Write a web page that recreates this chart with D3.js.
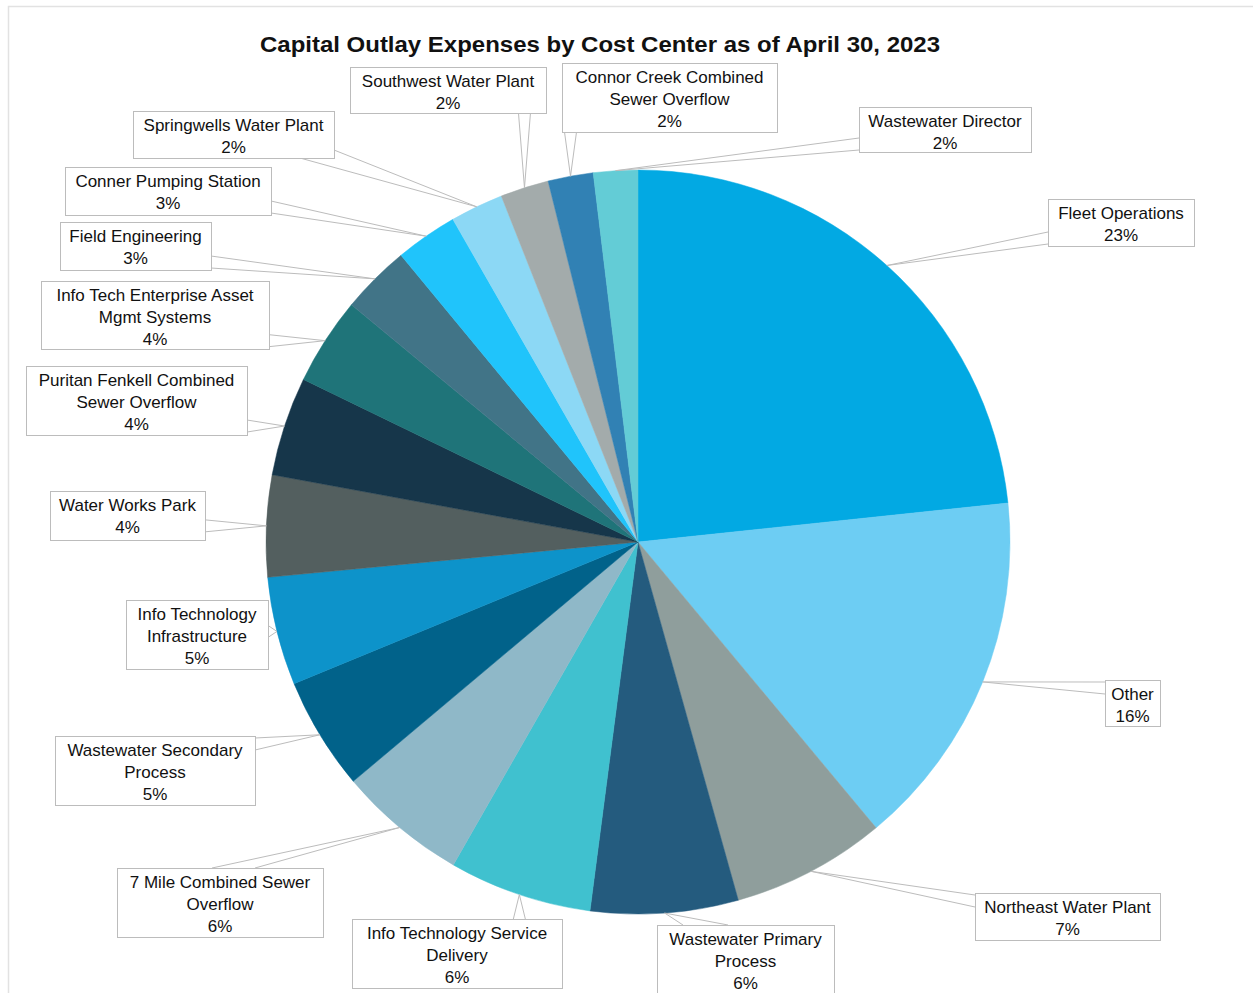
<!DOCTYPE html>
<html>
<head>
<meta charset="utf-8">
<script src="https://cdn.jsdelivr.net/npm/d3@7"></script>
<style>
  html, body { margin: 0; padding: 0; background: #fff; }
  svg { display: block; }
  text { font-family: "Liberation Sans", Arial, sans-serif; fill: #111; }
</style>
</head>
<body>
<svg id="chart" width="1253" height="993"></svg>
<script>
// ---- Data ----
const title = "Capital Outlay Expenses by Cost Center as of April 30, 2023";
const categories = [
  "Fleet Operations", "Other", "Northeast Water Plant", "Wastewater Primary Process",
  "Info Technology Service Delivery", "7 Mile Combined Sewer Overflow",
  "Wastewater Secondary Process", "Info Technology Infrastructure", "Water Works Park",
  "Puritan Fenkell Combined Sewer Overflow", "Info Tech Enterprise Asset Mgmt Systems",
  "Field Engineering", "Conner Pumping Station", "Springwells Water Plant",
  "Southwest Water Plant", "Connor Creek Combined Sewer Overflow", "Wastewater Director"
];
const shares = [23.3, 15.6, 6.7, 6.4, 6.2, 5.6, 4.9, 4.7, 4.4, 4.3, 3.8, 3.0, 2.7, 2.3, 2.1, 1.96, 1.92];
const colors = [
  "#02a9e3", "#6dcdf3", "#8f9e9c", "#245b7e", "#40c1cf", "#8fb8c8", "#01628a", "#0d93ca",
  "#535f5f", "#16364a", "#1f7479", "#417487", "#20c4fb", "#8cd8f5", "#a3abab", "#3181b4", "#63ccd6"
];

// ---- Layout (label boxes: x, y, w, h) ----
const labelBoxes = [
  [1048, 199, 146, 47], [1105, 680, 55, 46], [975, 893, 185, 47], [657, 925, 177, 74],
  [352, 919, 210, 69], [117, 868, 206, 69], [55, 736, 200, 69], [126, 600, 142, 69],
  [50, 491, 155, 49], [26, 366, 221, 69], [41, 281, 228, 68], [60, 222, 151, 48],
  [65, 167, 206, 48], [133, 111, 201, 47], [350, 67, 196, 46], [562, 63, 215, 69],
  [859, 107, 172, 45]
];
// optional leader base points on the box edge [x1, y1, x2, y2]
const leaderBases = {
  3: [683, 925, 728, 925],
  5: [212, 868, 255, 868],
  13: [300, 158, 334, 150]
};

const svg = d3.select("#chart");
const W = 1253, H = 993;
const cx = 638, cy = 542, R = 372;

// outer border
svg.append("path")
  .attr("d", `M8.5,${H} V6.5 H${W}`)
  .attr("fill", "none").attr("stroke", "#e2e2e2").attr("stroke-width", 1.5);

// title
svg.append("text")
  .attr("x", 600).attr("y", 52)
  .attr("text-anchor", "middle")
  .attr("font-size", 21.5).attr("font-weight", "bold")
  .attr("textLength", 680).attr("lengthAdjust", "spacingAndGlyphs")
  .text(title);

const data = categories.map((c, i) => ({ idx: i, name: c, value: shares[i], color: colors[i], box: labelBoxes[i] }));
const total = d3.sum(shares);

const pie = d3.pie().value(d => d.value).sort(null);
const arcs = pie(data);
const arc = d3.arc().innerRadius(0).outerRadius(R);

const g = svg.append("g").attr("transform", `translate(${cx},${cy})`);
g.selectAll("path.slice").data(arcs).join("path")
  .attr("class", "slice")
  .attr("d", arc)
  .attr("fill", d => d.data.color)
  .attr("stroke", d => d.data.color)
  .attr("stroke-width", 0.5);

// leader lines + labels
const lineColor = "#bcbcbc";
const lg = svg.append("g");
arcs.forEach(a => {
  const mid = (a.startAngle + a.endAngle) / 2;
  const px = cx + R * Math.sin(mid), py = cy - R * Math.cos(mid);
  const [bx, by, bw, bh] = a.data.box;
  let p1, p2;
  if (leaderBases[a.data.idx]) {
    const b = leaderBases[a.data.idx];
    p1 = [b[0], b[1]]; p2 = [b[2], b[3]];
  } else {
    const nx = Math.max(bx, Math.min(px, bx + bw));
    const ny = Math.max(by, Math.min(py, by + bh));
    const half = 6;
    const dl = Math.abs(px - bx), dr = Math.abs(px - (bx + bw)), dt = Math.abs(py - by), db = Math.abs(py - (by + bh));
    const outsideX = px < bx || px > bx + bw;
    const outsideY = py < by || py > by + bh;
    if (outsideX && (!outsideY || Math.min(dl, dr) > Math.min(dt, db))) {
      const ex = px < bx ? bx : bx + bw;
      const yy = Math.max(by + half + 2, Math.min(ny, by + bh - half - 2));
      p1 = [ex, yy - half]; p2 = [ex, yy + half];
    } else {
      const ey = py < by ? by : by + bh;
      const xx = Math.max(bx + half + 2, Math.min(nx, bx + bw - half - 2));
      p1 = [xx - half, ey]; p2 = [xx + half, ey];
    }
  }
  lg.append("path")
    .attr("d", `M${p1[0]},${p1[1]} L${px},${py} L${p2[0]},${p2[1]}`)
    .attr("fill", "none").attr("stroke", lineColor).attr("stroke-width", 1);
});

const tg = svg.append("g");
arcs.forEach(a => {
  const [bx, by, bw, bh] = a.data.box;
  tg.append("rect")
    .attr("x", bx + 0.5).attr("y", by + 0.5).attr("width", bw).attr("height", bh)
    .attr("fill", "#fff").attr("stroke", lineColor).attr("stroke-width", 1);
  const t = tg.append("text").attr("font-size", 17).attr("text-anchor", "middle");
  const words = a.data.name.split(" ");
  const maxW = bw - 10;
  const lines = [];
  let cur = "";
  const probe = tg.append("text").attr("font-size", 17).attr("visibility", "hidden");
  words.forEach(w => {
    const test = cur ? cur + " " + w : w;
    probe.text(test);
    if (probe.node().getComputedTextLength() > maxW && cur) {
      lines.push(cur); cur = w;
    } else cur = test;
  });
  if (cur) lines.push(cur);
  probe.remove();
  lines.push(Math.round(a.data.value / total * 100) + "%");
  lines.forEach((ln, i) => {
    t.append("tspan")
      .attr("x", bx + bw / 2)
      .attr("y", by + 20 + i * 22)
      .text(ln);
  });
});
</script>
</body>
</html>
